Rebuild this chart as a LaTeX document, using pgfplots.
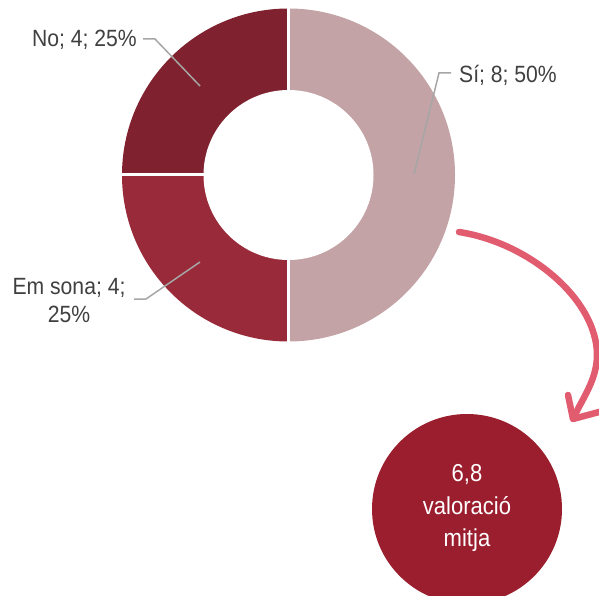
\documentclass[border=0pt]{standalone}
\usepackage{fontspec}
\setmainfont{Liberation Sans}[FakeStretch=0.9]
\usepackage{pgfplots}
\pgfplotsset{compat=1.18}
\definecolor{cSi}{HTML}{C4A3A6}
\definecolor{cEm}{HTML}{982A39}
\definecolor{cNo}{HTML}{7F212E}
\definecolor{cCirc}{HTML}{9B1E2E}
\definecolor{cArrow}{HTML}{E05C6E}
\definecolor{cText}{HTML}{404040}
\definecolor{cLead}{HTML}{A6A6A6}
% counts
\def\nSi{8}
\def\nEm{4}
\def\nNo{4}
\begin{document}
\begin{tikzpicture}
\pgfmathsetmacro{\tot}{\nSi+\nEm+\nNo}
\pgfmathsetmacro{\aA}{90}
\pgfmathsetmacro{\aB}{90-360*\nSi/\tot}
\pgfmathsetmacro{\aC}{\aB-360*\nEm/\tot}
\pgfmathsetmacro{\aD}{\aC-360*\nNo/\tot}
\begin{axis}[
  width=599pt, height=595pt, scale only axis,
  xmin=0, xmax=599, ymin=0, ymax=595,
  hide axis,
]
\coordinate (bl) at (rel axis cs:0,0);
\coordinate (tr) at (rel axis cs:1,1);
% donut
\def\R{166.5}
\def\r{85}
\fill[cSi] (axis cs:288.5,420) -- ++(\aA:\R) arc[start angle=\aA, end angle=\aB, radius=\R] -- cycle;
\fill[cEm] (axis cs:288.5,420) -- ++(\aB:\R) arc[start angle=\aB, end angle=\aC, radius=\R] -- cycle;
\fill[cNo] (axis cs:288.5,420) -- ++(\aC:\R) arc[start angle=\aC, end angle=\aD, radius=\R] -- cycle;
\draw[white, line width=3pt] (axis cs:288.5,250) -- (axis cs:288.5,590);
\draw[white, line width=3pt] (axis cs:118,420) -- (axis cs:288.5,420);
\fill[white] (axis cs:288.5,420) circle[radius=\r];
% leaders
\draw[cLead, line width=1.5pt] (axis cs:143,556) -- (axis cs:155,556) -- (axis cs:200,509);
\draw[cLead, line width=1.5pt] (axis cs:451,522) -- (axis cs:439,522) -- (axis cs:414,421);
\draw[cLead, line width=1.5pt] (axis cs:134,296) -- (axis cs:146,296) -- (axis cs:200,333);
% labels
\node[anchor=east, text=cText, font=\fontsize{23.5}{30}\selectfont, inner sep=0pt] at (axis cs:137,555) {No; 4; 25\%};
\node[anchor=west, text=cText, font=\fontsize{23.5}{30}\selectfont, inner sep=0pt] at (axis cs:459,520) {Sí; 8; 50\%};
\node[align=center, text=cText, font=\fontsize{23.5}{28}\selectfont, inner sep=0pt] at (axis cs:69,294) {Em sona; 4;\\25\%};
% arrow
\draw[cArrow, line width=6.5pt, line cap=round]
  (axis cs:459,363) .. controls (axis cs:530,352) and (axis cs:597,295) .. (axis cs:597,240)
  .. controls (axis cs:597,215) and (axis cs:582,196) .. (axis cs:574,178);
\addplot[cArrow, line width=6.5pt, line cap=round, line join=round] coordinates {
 (568,200) (573,176) (599,183)};
% circle
\fill[cCirc] (axis cs:467,86) circle[radius=95];
\node[align=center, text=white, font=\fontsize{24.5}{32.5}\selectfont, inner sep=0pt] at (axis cs:467,87) {6,8\\valoració\\mitja};
\end{axis}
\pgfresetboundingbox
\useasboundingbox (bl) rectangle (tr);
\end{tikzpicture}
\end{document}
